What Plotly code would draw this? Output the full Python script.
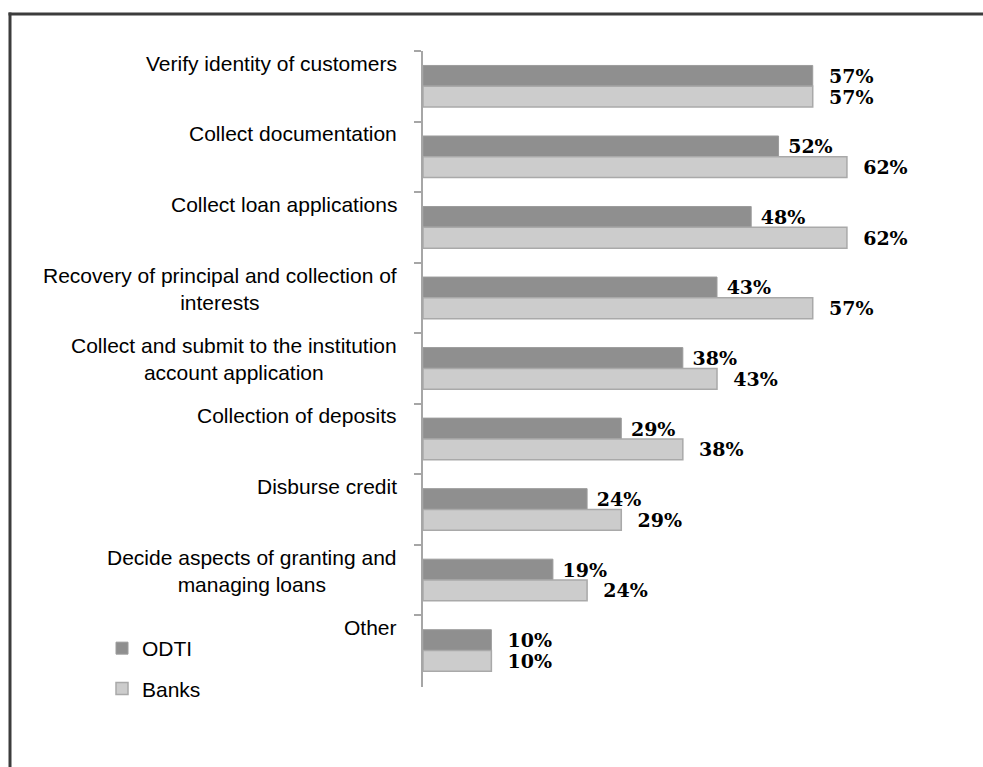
import plotly.graph_objects as go

categories = [
    "Verify identity of customers",
    "Collect documentation",
    "Collect loan applications",
    "Recovery of principal and collection of<br>interests",
    "Collect and submit to the institution<br>account application",
    "Collection of deposits",
    "Disburse credit",
    "Decide aspects of granting and<br>managing loans",
    "Other",
]
odti = [57, 52, 48, 43, 38, 29, 24, 19, 10]
banks = [57, 62, 62, 57, 43, 38, 29, 24, 10]
series_names = ["ODTI", "Banks"]

W, H = 983, 767
ML, MR, MT, MB = 423, 13, 51, 80
PW, PH = W - ML - MR, H - MT - MB


def px_x(p):
    return (p - ML) / PW


def px_y(p):
    return (H - MB - p) / PH


NB = "\u00a0"
odti_text = [(NB * 2 if o == b else NB) + f"{o}%" for o, b in zip(odti, banks)]
banks_text = [NB * 2 + f"{b}%" for b in banks]

label_font = dict(family="Liberation Sans, Arial, sans-serif", size=21, color="#000000")
value_font = dict(family="DejaVu Serif, serif", size=19, color="#000000", weight="bold")

fig = go.Figure()
fig.add_trace(go.Bar(
    y=categories, x=odti, orientation="h", name=series_names[0],
    marker=dict(color="#8f8f8f", line=dict(color="#9c9c9c", width=1)),
    text=odti_text, textposition="outside", textfont=value_font,
    constraintext="none", cliponaxis=False, legendgroup="a",
))
fig.add_trace(go.Bar(
    y=categories, x=banks, orientation="h", name=series_names[1],
    marker=dict(color="#cccccc", line=dict(color="#a9a9a9", width=1.5)),
    text=banks_text, textposition="outside", textfont=value_font,
    constraintext="none", cliponaxis=False, legendgroup="b",
))

annotations = []
for c in categories:
    two = "<br>" in c
    annotations.append(dict(
        x=0, xref="paper", y=c, yref="y", text=c, showarrow=False,
        xanchor="right", yanchor="middle", align="center",
        xshift=-24, yshift=9 if two else 23, font=label_font,
    ))

shapes = [
    dict(type="line", xref="paper", yref="paper",
         x0=px_x(8.5), x1=px_x(1100), y0=px_y(14), y1=px_y(14),
         line=dict(color="#3c3c3c", width=3)),
    dict(type="line", xref="paper", yref="paper",
         x0=px_x(10), x1=px_x(10), y0=px_y(12.5), y1=px_y(900),
         line=dict(color="#3c3c3c", width=3)),
]

fig.update_layout(
    width=W, height=H,
    margin=dict(l=ML, r=MR, t=MT, b=MB, autoexpand=False),
    paper_bgcolor="white", plot_bgcolor="white",
    barmode="group", bargap=0.41, bargroupgap=0,
    showlegend=True,
    legend=dict(
        x=px_x(102), xanchor="left", y=px_y(668.5), yanchor="middle",
        font=label_font, tracegroupgap=10, traceorder="grouped",
        bgcolor="rgba(0,0,0,0)",
    ),
    xaxis=dict(range=[0, 80], visible=False, showgrid=False, zeroline=False),
    yaxis=dict(
        autorange="reversed", showline=True, linecolor="#a6a6a6", linewidth=2,
        ticks="outside", ticklen=7, tickwidth=2, tickcolor="#a6a6a6",
        tickson="boundaries", showticklabels=False, showgrid=False, zeroline=False,
    ),
    annotations=annotations,
    shapes=shapes,
)

fig.write_html(
    "out.html",
    config={"displayModeBar": False},
    post_script="document.body.style.margin='0';document.body.style.overflow='hidden';",
)
